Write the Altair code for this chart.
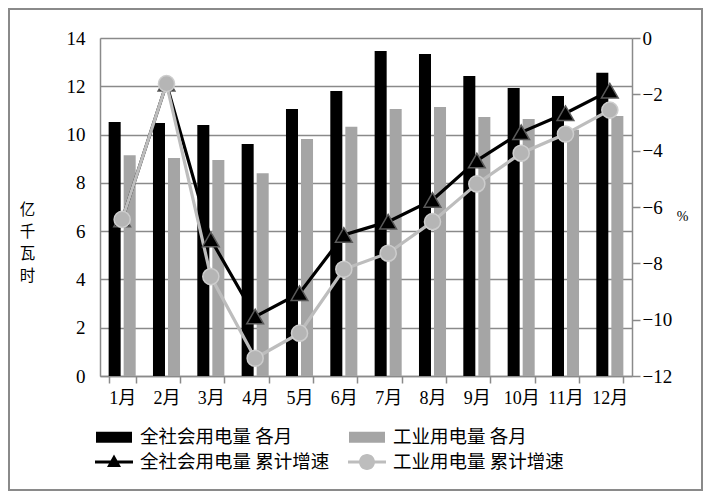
import altair as alt
import pandas as pd

months = ["1月", "2月", "3月", "4月", "5月", "6月", "7月", "8月", "9月", "10月", "11月", "12月"]
total_monthly = [10.52, 10.48, 10.40, 9.61, 11.06, 11.80, 13.46, 13.34, 12.43, 11.93, 11.60, 12.56]
industry_monthly = [9.14, 9.03, 8.95, 8.40, 9.82, 10.32, 11.06, 11.14, 10.73, 10.65, 10.20, 10.77]
total_cum = [-6.44, -1.62, -7.15, -9.89, -9.06, -6.99, -6.52, -5.75, -4.35, -3.35, -2.67, -1.87]
industry_cum = [-6.44, -1.62, -8.47, -11.37, -10.48, -8.21, -7.64, -6.52, -5.18, -4.09, -3.41, -2.56]

S_TM = "全社会用电量  各月"
S_IM = "工业用电量  各月"
S_TC = "全社会用电量  累计增速"
S_IC = "工业用电量  累计增速"
# legend fills column by column: column 1 = 全社会, column 2 = 工业
series_order = [S_TM, S_TC, S_IM, S_IC]
series_colors = ["#000000", "#000000", "#a5a5a5", "#bdbdbd"]

bars_df = pd.DataFrame({
    "month": months * 2,
    "series": [S_TM] * 12 + [S_IM] * 12,
    "value": total_monthly + industry_monthly,
})
lines_df = pd.DataFrame({
    "month": months * 2,
    "series": [S_TC] * 12 + [S_IC] * 12,
    "growth": total_cum + industry_cum,
})
legend_df = pd.DataFrame({"series": series_order})

GRID = "#8a8a8a"
NUM_FONT = "Liberation Serif"
CJK_FONT = "Noto Sans CJK SC"

# legend symbol shapes (custom SVG paths)
RECT_PATH = "M-0.9,-0.55L2.7,-0.55L2.7,0.55L-0.9,0.55Z"
TRI_PATH = "M-1,-0.15L2.8,-0.15L2.8,0.15L-1,0.15Z M0.9,-0.75L1.6,0.5L0.2,0.5Z"
CIR_PATH = ("M-1,-0.15L2.8,-0.15L2.8,0.15L-1,0.15Z "
            "M1.7,0A0.8,0.8 0 1,1 0.1,0A0.8,0.8 0 1,1 1.7,0Z")
series_shapes = [RECT_PATH, TRI_PATH, RECT_PATH, CIR_PATH]

legend = alt.Legend(
    title=None, orient="none", legendX=-5, legendY=389, columns=2,
    columnPadding=14, rowPadding=5, symbolSize=400, symbolStrokeWidth=0,
    symbolOpacity=1,
    labelFontSize=18.5, labelFont=CJK_FONT, labelColor="#000000", labelOffset=25,
    labelLimit=0, padding=0,
)

color_scale = alt.Scale(domain=series_order, range=series_colors)

x_axis = alt.Axis(
    title=None, labelAngle=0, grid=False, tickBand="extent", ticks=True, tickSize=7,
    tickColor=GRID, tickWidth=1.5, domainColor=GRID, domainWidth=1.5,
    labelPadding=6, labelFontSize=18, labelFont=f"{NUM_FONT}, {CJK_FONT}", labelColor="#000000",
)

left_axis = alt.Axis(
    values=list(range(0, 15, 2)), grid=True, gridColor=GRID, gridWidth=1.5,
    domainColor=GRID, domainWidth=1.5, ticks=False, labelPadding=15,
    labelFontSize=19, labelFont=NUM_FONT, labelColor="#000000",
    title=["亿", "千", "瓦", "时"], titleAngle=0, titleAlign="center", titleBaseline="top",
    titleX=-73, titleY=164, titleFontSize=15.5, titleFontWeight="normal",
    titleLineHeight=22, titleFont=CJK_FONT, titleColor="#000000",
)

right_axis = alt.Axis(
    orient="right", values=list(range(-12, 1, 2)), grid=False,
    domainColor=GRID, domainWidth=1.5, ticks=True, tickSize=8, tickColor=GRID, tickWidth=1.5,
    labelPadding=2, labelAlign="left", labelFontSize=19, labelFont=NUM_FONT, labelColor="#000000",
    title="%", titleAngle=0, titleX=50, titleY=178, titleAlign="center", titleBaseline="middle",
    titleFontSize=14, titleFontWeight="normal", titleFont=NUM_FONT, titleColor="#000000",
)

# legend-only layer: no mark survives the filter; it carries colour + shape legend
legend_layer = alt.Chart(legend_df).transform_filter("false").mark_point(
    filled=True, opacity=1,
).encode(
    color=alt.Color("series:N", scale=color_scale, legend=legend),
    shape=alt.Shape("series:N", scale=alt.Scale(domain=series_order, range=series_shapes),
                    legend=legend),
)

bars = alt.Chart(bars_df).mark_bar().encode(
    x=alt.X("month:N", sort=months, axis=x_axis,
            scale=alt.Scale(paddingInner=0.39, paddingOuter=0.195)),
    xOffset=alt.XOffset("series:N", sort=[S_TM, S_IM],
                        scale=alt.Scale(paddingInner=0.2, paddingOuter=0)),
    y=alt.Y("value:Q", scale=alt.Scale(domain=[0, 14]), axis=left_axis),
    fill=alt.Fill("series:N", scale=color_scale, legend=None),
)

x_line = alt.X("month:N", sort=months, axis=x_axis, bandPosition=0.5)
y_line = alt.Y("growth:Q", scale=alt.Scale(domain=[-12, 0]), axis=right_axis)

lines = alt.Chart(lines_df).mark_line(strokeWidth=3.2).encode(
    x=x_line, y=y_line,
    stroke=alt.Stroke("series:N", scale=color_scale, legend=None),
    detail="series:N",
)

tri = alt.Chart(lines_df).transform_filter(alt.datum.series == S_TC).mark_point(
    shape="triangle-up", filled=True, size=280, fill="#000000", stroke="#5a5a5a",
    strokeWidth=1.5, opacity=1,
).encode(x=x_line, y=y_line)

cir = alt.Chart(lines_df).transform_filter(alt.datum.series == S_IC).mark_point(
    shape="circle", filled=True, size=260, fill="#b5b5b5", stroke="#cdcdcd",
    strokeWidth=1.5, opacity=1,
).encode(x=x_line, y=y_line)

frame = alt.Chart(bars_df).mark_rect(fill="transparent", stroke="#8a8a8a", strokeWidth=2).encode(
    x=alt.value(-91), x2=alt.value(602), y=alt.value(-29), y2=alt.value(452),
)

chart = alt.layer(
    legend_layer, bars, alt.layer(lines, tri, cir), frame
).resolve_scale(y="independent").properties(
    width=532, height=338,
    autosize=alt.AutoSizeParams(type="none"),
    padding={"left": 92, "top": 30, "right": 71, "bottom": 115},
).configure_view(stroke=None).configure(font=CJK_FONT)

chart.save("out.html", embed_options={"renderer": "svg", "actions": False})
